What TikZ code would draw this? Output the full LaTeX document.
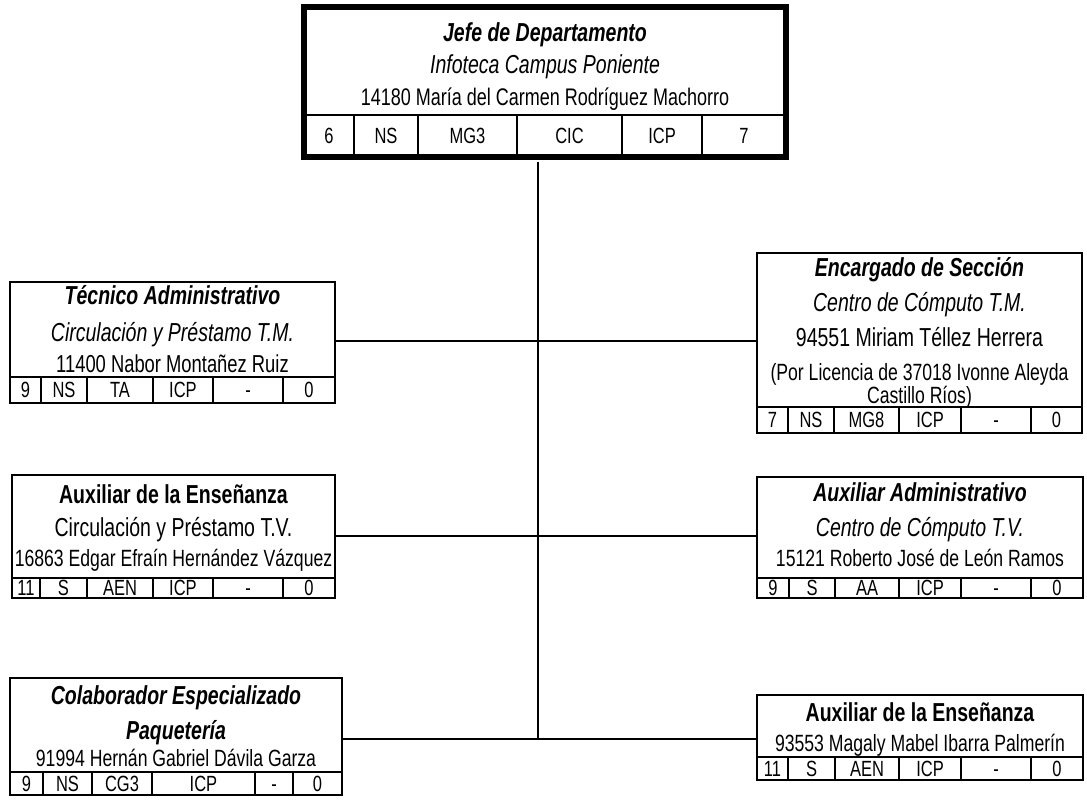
\documentclass[tikz,border=0pt]{standalone}
\usepackage{fontspec}
\setmainfont{Liberation Sans}[FakeStretch=0.75]
\newcommand\orgcells[4]{%
  \draw[gridline] (#1.west |- 0,#2) -- (#1.east |- 0,#2);
  \foreach \a/\b/\t [count=\i] in {#4} {
    \node[cell] (#1-c\i) at ({(\a+\b)/2},{(#2+#3)/2}) {\t};
    \draw[gridline] (\b,#2) -- (\b,#3);
  }%
}
\tikzset{
  orgbox/.style={draw, line width=1.8pt, inner sep=0pt, outer sep=0pt, anchor=north west},
  bigbox/.style={draw, line width=5.6pt, inner sep=0pt, outer sep=0pt, anchor=north west},
  gridline/.style={line width=1.8pt},
  txt/.style={inner sep=0pt, outer sep=0pt, text depth=0pt, anchor=center},
  fs/.style={font=\fontsize{#1}{#1}\selectfont, text height=0.716*#1 pt},
  ttl/.style={txt, fs=26, font=\fontsize{26}{30}\selectfont\bfseries\itshape},
  ttlup/.style={txt, fs=26, font=\fontsize{26}{30}\selectfont\bfseries},
  sub/.style={txt, fs=26, font=\fontsize{26}{30}\selectfont\itshape},
  subup/.style={txt, fs=26},
  nm/.style={txt, fs=23.5},
  cell/.style={txt, fs=22},
  link/.style={line width=1.5pt},
}
\begin{document}
\begin{tikzpicture}[x=1pt,y=-1pt]
\useasboundingbox (0,0) rectangle (1087,801);

% ---- top box
\node[bigbox, minimum width=482pt, minimum height=150pt] (jefe) at (304,7) {};
\node[ttl] (jefe-t) at (545,32) {Jefe de Departamento};
\node[sub] (jefe-s) at (545,64) {Infoteca Campus Poniente};
\node[nm, fs=24] (jefe-n) at (545,97) {14180 María del Carmen Rodríguez Machorro};
\begin{scope}[gridline/.style={line width=2.6pt}]
\orgcells{jefe}{115}{157}{304/354/6, 354/418/NS, 418/517/MG3, 517/622/CIC, 622/702/ICP, 702/786/7}
\end{scope}

% ---- left 1
\node[orgbox, minimum width=325pt, minimum height=121pt] (tec) at (10,282) {};
\node[ttl] (tec-t) at (172.5,295) {Técnico Administrativo};
\node[sub] (tec-s) at (172.5,332) {Circulación y Préstamo T.M.};
\node[nm, fs=24.5] (tec-n) at (172.5,364) {11400 Nabor Montañez Ruiz};
\orgcells{tec}{377}{403}{10/41/9, 41/87/NS, 87/153/TA, 153/213/ICP, 213/283/-, 283/335/0}

% ---- left 2
\node[orgbox, minimum width=323pt, minimum height=123pt] (auxa) at (12,475) {};
\node[ttlup] (auxa-t) at (173.5,494) {Auxiliar de la Enseñanza};
\node[subup] (auxa-s) at (173.5,527) {Circulación y Préstamo T.V.};
\node[nm] (auxa-n) at (173.5,558) {16863 Edgar Efraín Hernández Vázquez};
\orgcells{auxa}{578}{598}{12/40/11, 40/87/S, 87/153/AEN, 153/213/ICP, 213/283/-, 283/335/0}

% ---- left 3
\node[orgbox, minimum width=332pt, minimum height=117pt] (col) at (10,678) {};
\node[ttl] (col-t) at (176,695) {Colaborador Especializado};
\node[ttl] (col-s) at (176,730) {Paquetería};
\node[nm] (col-n) at (176,758) {91994 Hernán Gabriel Dávila Garza};
\orgcells{col}{772}{795}{10/43/9, 43/92/NS, 92/152/CG3, 152/255/ICP, 255/293/-, 293/342/0}

% ---- right 1
\node[orgbox, minimum width=325pt, minimum height=180pt] (enc) at (757,253) {};
\node[ttl] (enc-t) at (919.5,267) {Encargado de Sección};
\node[sub] (enc-s) at (919.5,302) {Centro de Cómputo T.M.};
\node[nm, fs=26] (enc-n) at (919.5,337) {94551 Miriam Téllez Herrera};
\node[nm] (enc-l1) at (919.5,372) {(Por Licencia de 37018 Ivonne Aleyda};
\node[nm] (enc-l2) at (919.5,395) {Castillo Ríos)};
\orgcells{enc}{407}{433}{757/788/7, 788/834/NS, 834/899/MG8, 899/961/ICP, 961/1031/-, 1031/1082/0}

% ---- right 2
\node[orgbox, minimum width=326pt, minimum height=121pt] (adm) at (757,477) {};
\node[ttl] (adm-t) at (920,492) {Auxiliar Administrativo};
\node[sub] (adm-s) at (920,527) {Centro de Cómputo T.V.};
\node[nm] (adm-n) at (920,558) {15121 Roberto José de León Ramos};
\orgcells{adm}{578}{598}{757/789/9, 789/835/S, 835/899/AA, 899/961/ICP, 961/1031/-, 1031/1083/0}

% ---- right 3
\node[orgbox, minimum width=326pt, minimum height=85pt] (auxb) at (757,695) {};
\node[ttlup] (auxb-t) at (920,712) {Auxiliar de la Enseñanza};
\node[nm] (auxb-n) at (920,743) {93553 Magaly Mabel Ibarra Palmerín};
\orgcells{auxb}{757}{780}{757/788/11, 788/835/S, 835/899/AEN, 899/961/ICP, 961/1031/-, 1031/1083/0}

% ---- connectors
\coordinate (spine) at (538,739);
\coordinate (j1) at (538,341);
\coordinate (j2) at (538,536);
\draw[link] ([xshift=-7pt,yshift=-5pt]jefe.south) -- (spine);
\draw[link] (tec.east |- j1) -- (enc.west |- j1);
\draw[link] (auxa.east |- j2) -- (adm.west |- j2);
\draw[link] (col.east |- spine) -- (auxb.west |- spine);
\end{tikzpicture}
\end{document}
